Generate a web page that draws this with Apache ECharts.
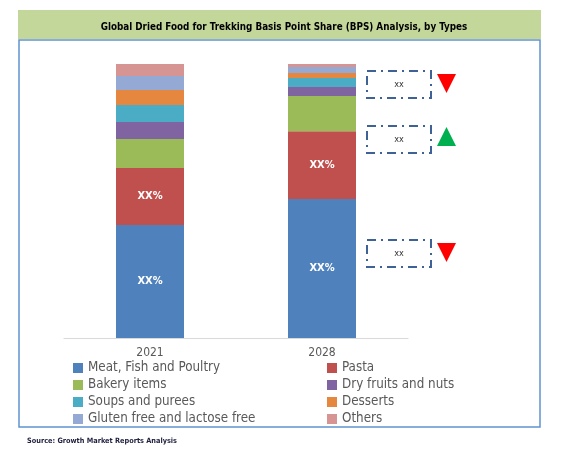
<!DOCTYPE html>
<html lang="en">
<head>
    <meta charset="UTF-8">
    <title>BPS Analysis</title>
    <style>
      * { padding: 0; margin: 0; }
      body { background: #fff; }
    </style>
</head>
<body>
    <div id="main" style="width: 565px;height:454px;"></div>
    <script src="https://cdn.jsdelivr.net/npm/echarts@6/dist/echarts.min.js"></script>
    <script>
        // years on the x axis
        var categories = ['2021', '2028'];

        // share of each type (%), bottom to top of the stack
        var meatFishPoultry = [41.2, 50.7];
        var pasta = [20.8, 24.8];
        var bakeryItems = [10.6, 12.8];
        var dryFruitsNuts = [6.2, 3.3];
        var soupsPurees = [6.2, 3.3];
        var desserts = [5.5, 1.8];
        var glutenLactoseFree = [5.1, 2.2];
        var others = [4.4, 1.1];

        var seriesNames = ['Meat, Fish and Poultry', 'Pasta', 'Bakery items', 'Dry fruits and nuts',
            'Soups and purees', 'Desserts', 'Gluten free and lactose free', 'Others'];
        var seriesData = [meatFishPoultry, pasta, bakeryItems, dryFruitsNuts,
            soupsPurees, desserts, glutenLactoseFree, others];
        var colors = ['#4F81BD', '#C0504D', '#9BBB59', '#8064A2', '#4BACC6', '#E5873F', '#94A9D3', '#D69593'];

        var legendFont = "'Liberation Sans Narrow', 'DejaVu Sans Condensed', Lato, sans-serif";

        var series = seriesNames.map(function (name, i) {
            return {
                name: name,
                type: 'bar',
                stack: 'total',
                barWidth: 68,
                data: seriesData[i],
                itemStyle: { color: colors[i] },
                label: {
                    show: i < 2,   // only the two big segments carry a label
                    position: 'inside',
                    color: '#fff',
                    fontWeight: 'bold',
                    fontSize: 11,
                    fontFamily: legendFont,
                    formatter: function () { return 'XX%'; }
                }
            };
        });

        // annotation boxes next to the 2028 bar: [top y, arrow direction]
        var notes = [[71, 'down'], [126, 'up'], [240, 'down']];
        var graphics = [
            { type: 'rect', shape: { x: 18, y: 10, width: 523, height: 29 }, style: { fill: '#C4D79B' }, z: 0 },
            { type: 'rect', shape: { x: 19, y: 40, width: 521, height: 387 }, style: { fill: 'none', stroke: '#6092CF', lineWidth: 1.5 }, z: 0 }
        ];
        notes.forEach(function (n) {
            var y = n[0];
            graphics.push({ type: 'rect', shape: { x: 367, y: y, width: 64, height: 27 },
                style: { fill: 'none', stroke: '#3E6296', lineWidth: 2, lineDash: [9, 5, 2, 5] } });
            graphics.push({ type: 'text', x: 399, y: y + 14,
                style: { text: 'xx', fontSize: 9, fill: '#333', align: 'center', verticalAlign: 'middle', fontFamily: legendFont } });
            var pts = n[1] === 'down'
                ? [[437, y + 3], [456, y + 3], [446.5, y + 22]]
                : [[446.5, y + 1], [456, y + 20], [437, y + 20]];
            graphics.push({ type: 'polygon', shape: { points: pts },
                style: { fill: n[1] === 'down' ? '#FF0000' : '#00B050' } });
        });
        graphics.push({ type: 'text', x: 27, y: 441,
            style: { text: 'Source: Growth Market Reports Analysis', fontSize: 7.3, fontWeight: 'bold', fill: '#1F1F3F',
                verticalAlign: 'middle', fontFamily: legendFont } });

        function legendBlock(left, names) {
            return {
                orient: 'vertical',
                left: left,
                top: 356,
                itemWidth: 10,
                itemHeight: 10,
                itemGap: 3,
                icon: 'rect',
                data: names,
                textStyle: { color: '#595959', fontSize: 13.3, lineHeight: 14, fontFamily: legendFont }
            };
        }

        option = {
            animation: false,
            title: {
                text: 'Global Dried Food for Trekking Basis Point Share (BPS) Analysis, by Types',
                left: 279,
                top: 17,
                textAlign: 'center',
                textStyle: { fontSize: 9.8, fontWeight: 'bold', color: '#000', fontFamily: legendFont }
            },
            legend: [
                legendBlock(68, [seriesNames[0], seriesNames[2], seriesNames[4], seriesNames[6]]),
                legendBlock(322, [seriesNames[1], seriesNames[3], seriesNames[5], seriesNames[7]])
            ],
            grid: { left: 64, right: 157, top: 64, bottom: 116 },
            xAxis: {
                type: 'category',
                data: categories,
                axisTick: { show: false },
                axisLine: { lineStyle: { color: '#D9D9D9' } },
                axisLabel: { color: '#595959', fontSize: 12, margin: 9, fontFamily: legendFont }
            },
            yAxis: { type: 'value', min: 0, max: 100, show: false },
            graphic: graphics,
            series: series
        };

        var myChart = echarts.init(document.getElementById('main'));
        myChart.setOption(option);
    </script>
</body>
</html>
